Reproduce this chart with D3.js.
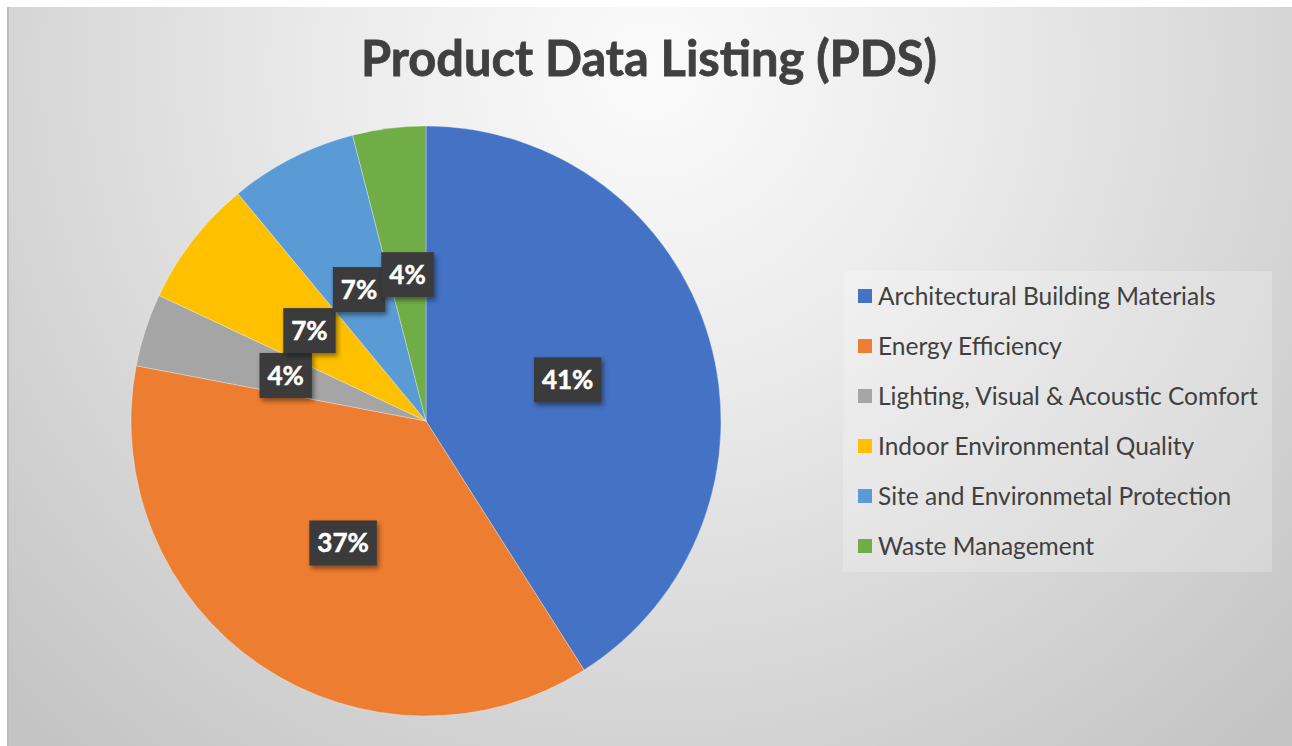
<!DOCTYPE html>
<html>
<head>
<meta charset="utf-8">
<script src="https://cdn.jsdelivr.net/npm/d3@7"></script>
<style>
  html, body { margin: 0; padding: 0; background: #ffffff; }
  svg { display: block; }
</style>
</head>
<body>
<svg id="chart" width="1292" height="746"></svg>
<script>
// Product Data Listing categories and their share (percent)
const categories = [
  "Architectural Building Materials",
  "Energy Efficiency",
  "Lighting, Visual & Acoustic Comfort",
  "Indoor Environmental Quality",
  "Site and Environmetal Protection",
  "Waste Management"
];
const values = [41, 37, 4, 7, 7, 4];
const colors = ["#4472C4", "#ED7D31", "#A5A5A5", "#FFC000", "#5B9BD5", "#70AD47"];
const title = "Product Data Listing (PDS)";

const W = 1292, H = 746;
const svg = d3.select("#chart");
const defs = svg.append("defs");

// soft radial backdrop
const grad = defs.append("radialGradient")
  .attr("id", "bg")
  .attr("gradientUnits", "userSpaceOnUse")
  .attr("cx", 650).attr("cy", 70).attr("r", 900);
grad.append("stop").attr("offset", "0%").attr("stop-color", "#fbfbfb");
grad.append("stop").attr("offset", "35%").attr("stop-color", "#ebebeb");
grad.append("stop").attr("offset", "100%").attr("stop-color", "#c4c4c4");

const shadow = defs.append("filter").attr("id", "shadow")
  .attr("x", "-30%").attr("y", "-30%").attr("width", "170%").attr("height", "170%");
shadow.append("feDropShadow")
  .attr("dx", 2).attr("dy", 3).attr("stdDeviation", 2.5)
  .attr("flood-color", "#000").attr("flood-opacity", 0.45);

svg.append("rect")
  .attr("x", 7).attr("y", 7).attr("width", W - 7).attr("height", H - 7)
  .attr("fill", "url(#bg)");
svg.append("line")
  .attr("x1", 8).attr("x2", 8).attr("y1", 7).attr("y2", H)
  .attr("stroke", "#bdbdbd").attr("stroke-width", 2);

// title
svg.append("text")
  .attr("x", 649).attr("y", 76)
  .attr("text-anchor", "middle")
  .attr("font-family", "Lato, 'Open Sans', sans-serif")
  .attr("font-weight", 700)
  .attr("font-size", 50)
  .attr("fill", "#404040")
  .attr("stroke", "#404040")
  .attr("stroke-width", 0.8)
  .attr("textLength", 576)
  .attr("lengthAdjust", "spacingAndGlyphs")
  .text(title);

// pie
const cx = 426, cy = 421, R = 295;
const pie = d3.pie().sort(null).value(d => d)(values);
const arc = d3.arc().innerRadius(0).outerRadius(R);
const total = d3.sum(values);
const fmt = d3.format(".0%");

const g = svg.append("g").attr("transform", `translate(${cx},${cy})`);
g.selectAll("path.slice")
  .data(pie)
  .join("path")
  .attr("class", "slice")
  .attr("d", arc)
  .attr("fill", (d, i) => colors[i])
  .attr("stroke", "#ffffff")
  .attr("stroke-width", 0.5)
  .attr("stroke-opacity", 0.6);

// data labels in dark callout boxes at half radius
const labels = g.selectAll("g.lbl")
  .data(pie)
  .join("g")
  .attr("class", "lbl")
  .attr("transform", d => `translate(${arc.centroid(d)})`);

labels.each(function(d) {
  const sel = d3.select(this);
  const box = sel.append("rect")
    .attr("fill", "#3a3a3a")
    .attr("filter", "url(#shadow)");
  const t = sel.append("text")
    .attr("text-anchor", "middle")
    .attr("dy", "0.36em")
    .attr("font-family", "Lato, 'Open Sans', sans-serif")
    .attr("font-weight", 700)
    .attr("font-size", 26)
    .attr("fill", "#ffffff")
    .attr("stroke", "#ffffff")
    .attr("stroke-width", 0.5)
    .text(fmt(d.data / total));
  const w = t.node().getComputedTextLength() + 16;
  const h = 45;
  box.attr("x", -w / 2).attr("y", -h / 2).attr("width", w).attr("height", h);
});

// legend
const lg = svg.append("g");
lg.append("rect")
  .attr("x", 843).attr("y", 271).attr("width", 429).attr("height", 301)
  .attr("fill", "#ffffff").attr("fill-opacity", 0.22);

const rowY = d3.scalePoint().domain(categories).range([296, 546]);
const items = lg.selectAll("g.item")
  .data(categories)
  .join("g")
  .attr("class", "item")
  .attr("transform", d => `translate(858,${rowY(d)})`);
items.append("rect")
  .attr("x", 0).attr("y", -7).attr("width", 14).attr("height", 14)
  .attr("fill", (d, i) => colors[i]);
items.append("text")
  .attr("x", 20).attr("dy", "0.36em")
  .attr("font-family", "Lato, 'Open Sans', sans-serif")
  .attr("font-size", 24.5)
  .attr("fill", "#404040")
  .text(d => d);
</script>
</body>
</html>
